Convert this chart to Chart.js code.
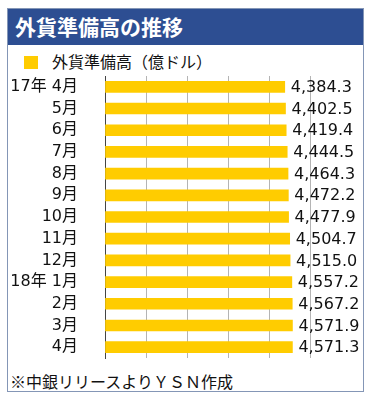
<!DOCTYPE html>
<html><head><meta charset="utf-8">
<script src="https://cdn.jsdelivr.net/npm/chart.js@4"></script>
<style>
html,body{margin:0;padding:0;background:#fff;width:372px;height:400px;overflow:hidden;}
#frame{position:absolute;left:7px;top:8px;width:355px;height:382px;border:1px solid #8496b6;}
#head{position:absolute;left:0;top:0;width:355px;height:36px;background:#2d4e92;color:#fff;font:bold 21px "Noto Sans CJK JP",sans-serif;line-height:36px;}
#head span{position:absolute;left:7px;top:-1px;}
#legend{position:absolute;left:16px;top:46px;height:14px;font:16px "Noto Sans CJK JP",sans-serif;color:#111;}
#legend i{position:absolute;left:0;top:1px;width:14px;height:13px;background:#ffcc00;}
#legend span{position:absolute;left:28px;top:-5px;white-space:nowrap;line-height:22px;}
#foot{position:absolute;left:2px;top:360px;font:16px "Noto Sans CJK JP",sans-serif;color:#111;white-space:nowrap;}
#wrap{position:absolute;left:0;top:62px;width:355px;height:290px;}
</style></head><body>
<div id="frame">
  <div id="head"><span>外貨準備高の推移</span></div>
  <div id="legend"><i></i><span>外貨準備高（億ドル）</span></div>
  <div id="wrap"><canvas id="c" width="355" height="290"></canvas></div>
  <div id="foot">※中銀リリースよりＹＳＮ作成</div>
</div>
<script>
const categories = ["17年 4月","5月","6月","7月","8月","9月","10月","11月","12月","18年 1月","2月","3月","4月"];
const reserves = [4384.3,4402.5,4419.4,4444.5,4464.3,4472.2,4477.9,4504.7,4515.0,4557.2,4567.2,4571.9,4571.3];
const seriesName = "外貨準備高（億ドル）";
const xMin = 0, xMax = 5000, xStep = 1000;

const valueLabels = {
  id:'valueLabels',
  afterDatasetsDraw(chart){
    const ctx = chart.ctx;
    const meta = chart.getDatasetMeta(0);
    ctx.save();
    ctx.font = '16px "DejaVu Sans","Noto Sans CJK JP",sans-serif';
    ctx.fillStyle = '#111';
    ctx.textAlign = 'left';
    ctx.textBaseline = 'middle';
    meta.data.forEach((bar,i)=>{
      const v = reserves[i];
      const txt = v.toLocaleString('en-US',{minimumFractionDigits:1,maximumFractionDigits:1});
      ctx.fillText(txt, bar.x + 6, bar.y + 1);
    });
    ctx.restore();
  }
};

new Chart(document.getElementById('c'),{
  type:'bar',
  data:{labels:categories,datasets:[{label:seriesName,data:reserves,backgroundColor:'#ffcc00',barThickness:11,borderWidth:0}]},
  options:{
    indexAxis:'y',
    responsive:false,
    animation:false,
    events:[],
    layout:{padding:{left:0,right:53,top:5,bottom:3}},
    plugins:{legend:{display:false},tooltip:{enabled:false}},
    scales:{
      x:{
        min:xMin,max:xMax,
        ticks:{display:false,stepSize:xStep},
        grid:{display:true,color:'#b4b4b4',lineWidth:1,drawTicks:false,drawOnChartArea:true},
        border:{display:false}
      },
      y:{
        afterFit(s){ s.width = 97; s.paddingTop = 0; s.paddingBottom = 0; },
        ticks:{padding:27,autoSkip:false,color:'#111',font:{family:'"DejaVu Sans","Noto Sans CJK JP",sans-serif',size:16}},
        grid:{display:false,drawTicks:false},
        border:{display:true,color:'#444',width:1}
      }
    }
  },
  plugins:[valueLabels]
});
</script>
</body></html>
